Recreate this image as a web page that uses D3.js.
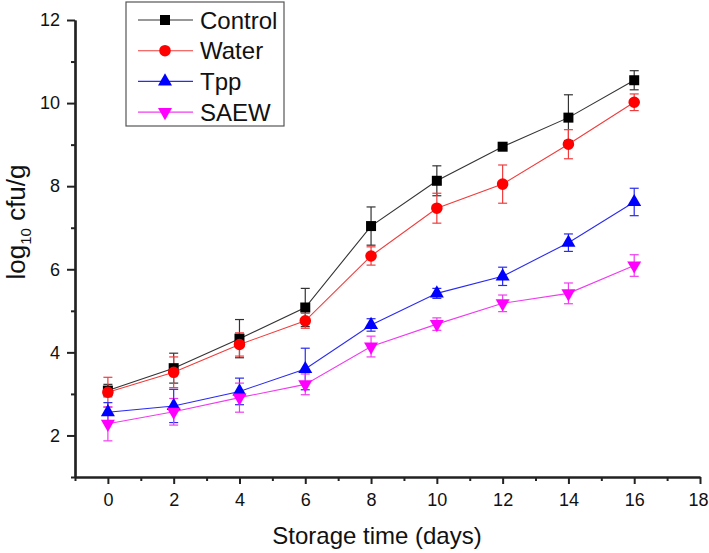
<!DOCTYPE html>
<html>
<head>
<meta charset="utf-8">
<script src="https://cdn.jsdelivr.net/npm/d3@7"></script>
<style>
  body { margin: 0; background: #fff; }
  text { font-family: Arial, "Liberation Sans", sans-serif; fill: #111; }
</style>
</head>
<body>
<div id="chart"></div>
<script>
// storage days and mean counts (log10 cfu/g) with error bars
const days = [0, 2, 4, 6, 8, 10, 12, 14, 16];
const control = [3.08, 3.62, 4.33, 5.08, 7.04, 8.13, 8.95, 9.65, 10.55];
const controlErr = [0.15, 0.36, 0.46, 0.46, 0.46, 0.36, 0.05, 0.55, 0.23];
const water = [3.04, 3.52, 4.19, 4.76, 6.32, 7.47, 8.05, 9.01, 10.02];
const waterErr = [0.36, 0.37, 0.28, 0.18, 0.22, 0.36, 0.46, 0.35, 0.2];
const tpp = [2.56, 2.71, 3.06, 3.6, 4.66, 5.42, 5.83, 6.64, 7.62];
const tppErr = [0.23, 0.4, 0.32, 0.5, 0.15, 0.12, 0.22, 0.21, 0.33];
const saew = [2.28, 2.57, 2.91, 3.23, 4.14, 4.68, 5.18, 5.42, 6.09];
const saewErr = [0.41, 0.32, 0.35, 0.25, 0.25, 0.15, 0.2, 0.25, 0.26];

const xTicks = [0, 2, 4, 6, 8, 10, 12, 14, 16, 18];
const yTicks = [2, 4, 6, 8, 10, 12];

const series = [
  { name: "Control", values: control, err: controlErr, color: "#000000", line: "#333333", symbol: "square" },
  { name: "Water", values: water, err: waterErr, color: "#ff0000", line: "#f03c3c", symbol: "circle" },
  { name: "Tpp", values: tpp, err: tppErr, color: "#0000ff", line: "#2a2af0", symbol: "up" },
  { name: "SAEW", values: saew, err: saewErr, color: "#ff00ff", line: "#f03cf0", symbol: "down" }
];

const W = 709, H = 553;
const svg = d3.select("#chart").append("svg")
  .attr("width", W)
  .attr("height", H);

const x = d3.scaleLinear().domain([-1, 18]).range([75, 700]);
const y = d3.scaleLinear().domain([1, 12]).range([477, 20]);

// axes - major ticks with labels, minor ticks without
const xMinor = d3.range(-1, 18, 2);
const yMinor = d3.range(1, 12, 2);

svg.append("g")
  .attr("transform", `translate(0,${y(1)})`)
  .call(d3.axisBottom(x).tickValues(xTicks).tickSize(7).tickPadding(9).tickSizeOuter(0));
svg.append("g")
  .attr("transform", `translate(0,${y(1)})`)
  .call(d3.axisBottom(x).tickValues(xMinor).tickSize(4).tickFormat("").tickSizeOuter(0));

svg.append("g")
  .attr("transform", `translate(${x(-1)},0)`)
  .call(d3.axisLeft(y).tickValues(yTicks).tickSize(8).tickPadding(7).tickSizeOuter(0));
svg.append("g")
  .attr("transform", `translate(${x(-1)},0)`)
  .call(d3.axisLeft(y).tickValues(yMinor).tickSize(4).tickFormat("").tickSizeOuter(0));

svg.selectAll(".domain").attr("stroke", "#222").attr("stroke-width", 2.2);
svg.selectAll(".tick line").attr("stroke", "#222").attr("stroke-width", 2);
svg.selectAll(".tick text").style("font-size", "18px").attr("fill", "#111");
// keep the last x label inside the frame
svg.selectAll(".tick text").filter(d => d === 18).attr("dx", -2);

// axis titles
svg.append("text")
  .attr("x", 377)
  .attr("y", 544)
  .attr("text-anchor", "middle")
  .style("font-size", "24px")
  .text("Storage time (days)");

const yTitle = svg.append("text")
  .attr("transform", "translate(25,222) rotate(-90)")
  .attr("text-anchor", "middle")
  .style("font-size", "26px");
yTitle.append("tspan").text("log");
yTitle.append("tspan").attr("dy", 6).style("font-size", "15px").text("10");
yTitle.append("tspan").attr("dy", -6).text(" cfu/g");

// symbol drawing
const symbolType = {
  square: d3.symbolSquare,
  circle: d3.symbolCircle,
  up: d3.symbolTriangle,
  down: d3.symbolTriangle
};
const symbolSize = { square: 100, circle: 105, up: 85, down: 85 };
function symbolPath(s) {
  return d3.symbol().type(symbolType[s]).size(symbolSize[s])();
}
function symbolTransform(s, px, py) {
  return s === "down" ? `translate(${px},${py}) rotate(180)` : `translate(${px},${py})`;
}

const line = d3.line()
  .x((d, i) => x(days[i]))
  .y(d => y(d));

const plot = svg.append("g");

series.forEach(s => {
  const g = plot.append("g");
  g.append("path")
    .attr("d", line(s.values))
    .attr("fill", "none")
    .attr("stroke", s.line)
    .attr("stroke-width", 1.1);

  // error bars
  const eb = g.selectAll(".eb")
    .data(s.values)
    .join("g")
    .attr("stroke", s.line)
    .attr("stroke-width", 1.2);
  eb.append("line")
    .attr("x1", (d, i) => x(days[i]))
    .attr("x2", (d, i) => x(days[i]))
    .attr("y1", (d, i) => y(d - s.err[i]))
    .attr("y2", (d, i) => y(d + s.err[i]));
  [1, -1].forEach(sign => {
    eb.append("line")
      .attr("x1", (d, i) => x(days[i]) - 4.5)
      .attr("x2", (d, i) => x(days[i]) + 4.5)
      .attr("y1", (d, i) => y(d + sign * s.err[i]))
      .attr("y2", (d, i) => y(d + sign * s.err[i]));
  });
});

series.forEach(s => {
  plot.append("g").selectAll("path")
    .data(s.values)
    .join("path")
    .attr("d", symbolPath(s.symbol))
    .attr("transform", (d, i) => symbolTransform(s.symbol, x(days[i]), y(d)))
    .attr("fill", s.color);
});

// legend
const legend = svg.append("g");
legend.append("rect")
  .attr("x", 126)
  .attr("y", 2)
  .attr("width", 158)
  .attr("height", 124)
  .attr("fill", "#fff")
  .attr("stroke", "#555")
  .attr("stroke-width", 1.2);

const legendRow = legend.selectAll(".row")
  .data(series)
  .join("g")
  .attr("transform", (d, i) => `translate(0,${20 + i * 30.7})`);

legendRow.append("line")
  .attr("x1", 138)
  .attr("x2", 193)
  .attr("stroke", d => d.line)
  .attr("stroke-width", 1.1);
legendRow.append("path")
  .attr("d", d => symbolPath(d.symbol))
  .attr("transform", d => symbolTransform(d.symbol, 165, 0))
  .attr("fill", d => d.color);
legendRow.append("text")
  .attr("x", 200)
  .attr("y", 8.5)
  .style("font-size", "24px")
  .text(d => d.name);
</script>
</body>
</html>
